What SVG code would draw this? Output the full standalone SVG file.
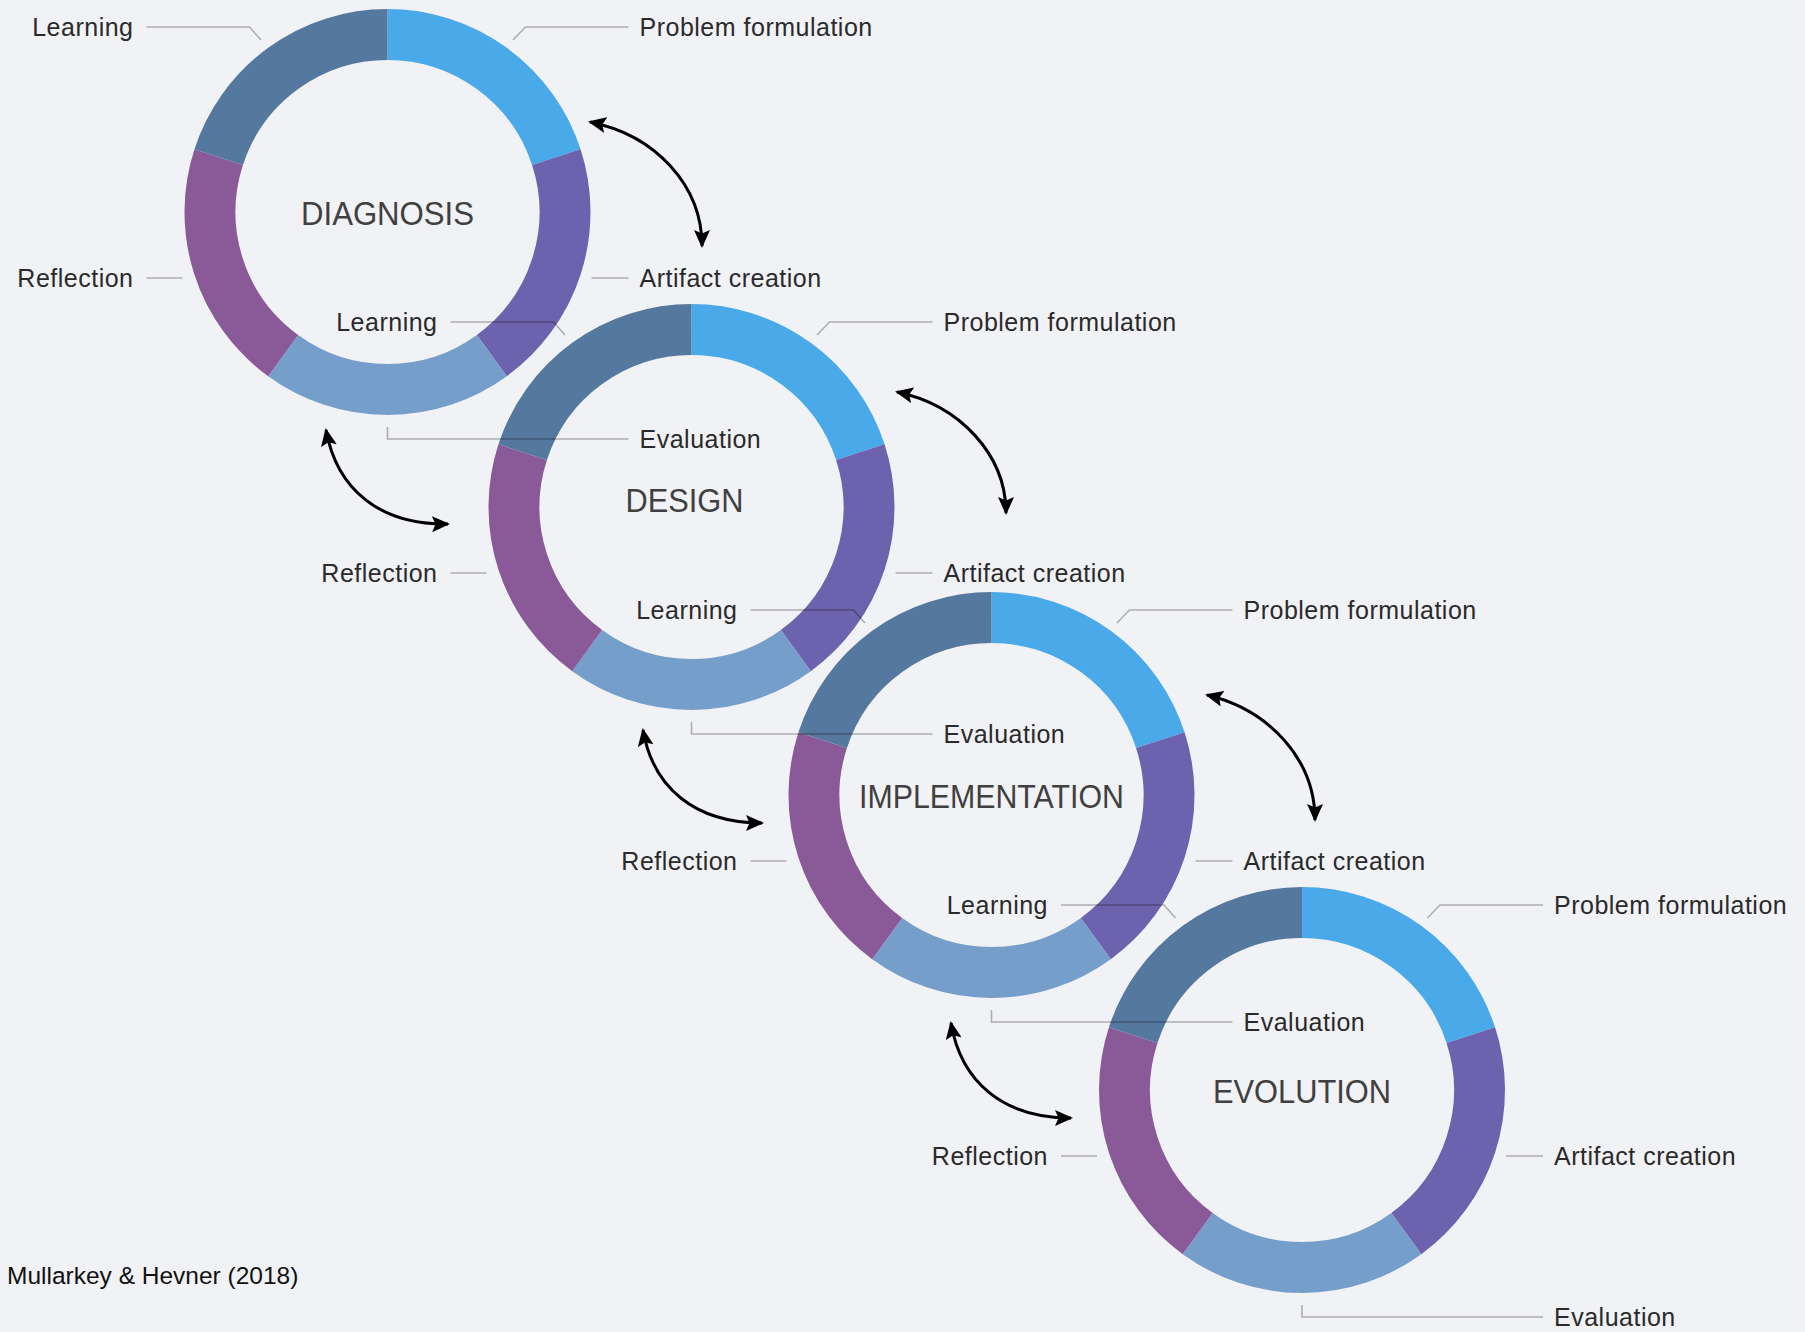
<svg xmlns="http://www.w3.org/2000/svg" xmlns:xlink="http://www.w3.org/1999/xlink" width="1805" height="1332" viewBox="0 0 1805 1332">
<style>
.bg{fill:#F1F2F6}
.seg{fill:none;stroke-width:51;stroke-linecap:butt}
.pf{stroke:#4AA9E8}.ac{stroke:#6D62AE}.ev{stroke:#769ECB}.rf{stroke:#8A5A98}.ln{stroke:#55789E}
.title{font-family:"Liberation Sans",Arial,sans-serif;font-size:34px;fill:#404040;text-anchor:middle}
.lbl{font-family:"Liberation Sans",Arial,sans-serif;font-size:25px;letter-spacing:0.5px;fill:#2a2a2a}
.end{text-anchor:end}
.lead{fill:none;stroke:#000;stroke-opacity:0.28;stroke-width:1.6}
.arrow{fill:none;stroke:#000;stroke-width:3;marker-start:url(#ah);marker-end:url(#ah)}
.cite{font-family:"Liberation Sans",Arial,sans-serif;font-size:24.5px;fill:#111}
</style>
<defs>
<marker id="ah" markerUnits="userSpaceOnUse" viewBox="0 0 18 16" markerWidth="18" markerHeight="16" refX="16" refY="8" orient="auto-start-reverse">
<path d="M0,0 L18,8 L0,16 L3.5,8 z" fill="#000"/>
</marker>
<g id="ring">
<path class="seg pf" d="M0,-177.5 A177.5,177.5 0 0 1 168.81,-54.85"/>
<path class="seg ac" d="M168.81,-54.85 A177.5,177.5 0 0 1 104.33,143.6"/>
<path class="seg ev" d="M104.33,143.6 A177.5,177.5 0 0 1 -104.33,143.6"/>
<path class="seg rf" d="M-104.33,143.6 A177.5,177.5 0 0 1 -168.81,-54.85"/>
<path class="seg ln" d="M-168.81,-54.85 A177.5,177.5 0 0 1 0,-177.5"/>
</g>
<g id="labels">
<text class="lbl end" x="-254" y="-176">Learning</text>
<path class="lead" d="M-241,-185 H-138 L-126.5,-172"/>
<text class="lbl" x="252" y="-176">Problem formulation</text>
<path class="lead" d="M241,-185 H138 L125.5,-172"/>
<text class="lbl end" x="-254" y="75">Reflection</text>
<path class="lead" d="M-241,66 H-205"/>
<text class="lbl" x="252" y="75">Artifact creation</text>
<path class="lead" d="M204,66 H241"/>
<text class="lbl" x="252" y="236">Evaluation</text>
<path class="lead" d="M0,215 V227 H241"/>
</g>
</defs>
<rect class="bg" x="0" y="0" width="1805" height="1332"/>

<g id="diagnosis" transform="translate(387.5,212)">
<use xlink:href="#ring" href="#ring"/>
<text class="title" x="0" y="13" textLength="173" lengthAdjust="spacingAndGlyphs">DIAGNOSIS</text>
</g>
<g id="design" transform="translate(691.5,507)">
<use xlink:href="#ring" href="#ring"/>
<text class="title" x="-7" y="5" textLength="118" lengthAdjust="spacingAndGlyphs">DESIGN</text>
</g>
<g id="implementation" transform="translate(991.5,795)">
<use xlink:href="#ring" href="#ring"/>
<text class="title" x="0" y="13" textLength="265" lengthAdjust="spacingAndGlyphs">IMPLEMENTATION</text>
</g>
<g id="evolution" transform="translate(1302,1090)">
<use xlink:href="#ring" href="#ring"/>
<text class="title" x="0" y="13" textLength="178" lengthAdjust="spacingAndGlyphs">EVOLUTION</text>
</g>

<g id="segment-labels">
<g id="diagnosis-labels" transform="translate(387.5,212)"><use xlink:href="#labels" href="#labels"/></g>
<g id="design-labels" transform="translate(691.5,507)"><use xlink:href="#labels" href="#labels"/></g>
<g id="implementation-labels" transform="translate(991.5,795)"><use xlink:href="#labels" href="#labels"/></g>
<g id="evolution-labels" transform="translate(1302,1090)"><use xlink:href="#labels" href="#labels"/></g>
</g>

<g id="connectors">
<path class="arrow" d="M590,122 C655,135 702,185 702,246"/>
<path class="arrow" d="M897,392 C960,405 1006,455 1006,513"/>
<path class="arrow" d="M1207,695 C1270,710 1315,760 1315,820"/>
<path class="arrow" d="M326,430 C337,490 380,525 448,524"/>
<path class="arrow" d="M643,730 C653,788 695,823 762,823"/>
<path class="arrow" d="M951,1023 C961,1082 1003,1118 1071,1118"/>
</g>

<text class="cite" x="7" y="1284">Mullarkey &amp; Hevner (2018)</text>
</svg>
